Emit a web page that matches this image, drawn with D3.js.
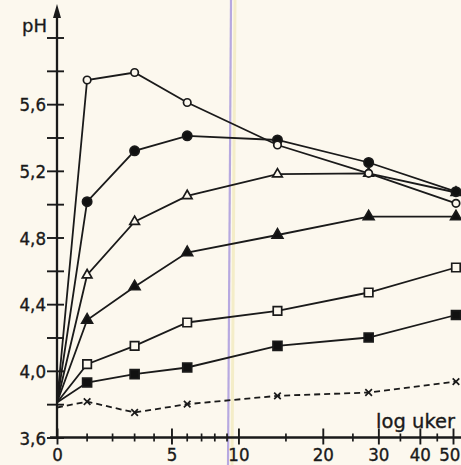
<!DOCTYPE html>
<html>
<head>
<meta charset="utf-8">
<script src="https://cdn.jsdelivr.net/npm/d3@7"></script>
<style>
  body { margin: 0; background: #fcf8ee; }
  svg { display: block; }
  text { font-family: "DejaVu Sans Condensed", "Liberation Sans Narrow", "DejaVu Sans", sans-serif; fill: #1a1a1a; stroke: #1a1a1a; stroke-width: 0.35px; }
  .word { font-family: "DejaVu Sans", sans-serif; }
</style>
</head>
<body>
<div id="chart"></div>
<script>
// weeks after treatment (x axis is log(weeks + 5))
var weeks = [0, 1, 3, 6, 14, 28, 51];

// pH per series
var openCircle     = [3.81, 5.745, 5.79, 5.61, 5.355, 5.185, 5.005];
var filledCircle   = [3.81, 5.015, 5.32, 5.41, 5.385, 5.25, 5.075];
var openTriangle   = [3.81, 4.575, 4.895, 5.05, 5.18, 5.185, 5.07];
var filledTriangle = [3.81, 4.305, 4.505, 4.71, 4.815, 4.925, 4.925];
var openSquare     = [3.81, 4.04, 4.15, 4.29, 4.36, 4.47, 4.62];
var filledSquare   = [3.81, 3.93, 3.98, 4.02, 4.15, 4.20, 4.335];
var crosses        = [3.78, 3.815, 3.75, 3.80, 3.85, 3.87, 3.935];

var yTicks = [3.6, 3.8, 4.0, 4.2, 4.4, 4.6, 4.8, 5.0, 5.2, 5.4, 5.6, 5.8, 6.0];
var yLabels = [3.6, 4.0, 4.4, 4.8, 5.2, 5.6];
var xMajor = [0, 5, 10, 20, 30, 40, 50];
var xMinor = [1, 2, 3, 4, 6, 7, 8, 9, 15, 25, 35, 45];

var width = 461, height = 465;
var bg = "#fcf8ee";
var ink = "#1a1a1a";

var svg = d3.select("#chart")
    .append("svg")
    .attr("width", width)
    .attr("height", height);

svg.append("rect").attr("width", width).attr("height", height).attr("fill", bg);

// scan artefacts: pale vertical bands
svg.append("line")
    .attr("x1", 231).attr("x2", 228).attr("y1", 0).attr("y2", height)
    .attr("stroke", "#b7a9e0").attr("stroke-width", 2.2);
svg.append("line")
    .attr("x1", 235).attr("x2", 232).attr("y1", 0).attr("y2", height)
    .attr("stroke", "#f4edc8").attr("stroke-width", 3);

var x = d3.scaleLog().domain([5, 55]).range([57, 453]);
var xw = function (w) { return x(w + 5); };
var y = d3.scaleLinear().domain([3.6, 6.0]).range([437.5, 37.5]);

// Y axis
var yAxis = svg.append("g")
    .attr("transform", "translate(57,0)")
    .call(d3.axisLeft(y).tickValues(yTicks).tickSize(10).tickPadding(1)
        .tickFormat(function (d) {
            return yLabels.some(function (v) { return Math.abs(v - d) < 1e-6; }) ? d3.format(".1f")(d).replace(".", ",") : "";
        }));
yAxis.select(".domain").remove();
yAxis.selectAll(".tick line").attr("x1", 7).attr("stroke", ink).attr("stroke-width", 1.9);
yAxis.selectAll(".tick text").style("font-size", "18.5px").attr("fill", ink).attr("dy", "0.36em");
yAxis.append("line")
    .attr("x1", 0).attr("x2", 0).attr("y1", y(3.6)).attr("y2", 12)
    .attr("stroke", ink).attr("stroke-width", 2.3);
yAxis.append("path")
    .attr("d", "M0,4L-4,18L4,18Z")
    .attr("fill", ink);

// X axis
var xAxis = svg.append("g")
    .attr("transform", "translate(0," + y(3.6) + ")")
    .call(d3.axisBottom(x).tickValues(xMajor.map(function (d) { return d + 5; }))
        .tickSize(7).tickPadding(3)
        .tickFormat(function (d) { return String(Math.round(d - 5)); }));
xAxis.select(".domain").remove();
xAxis.selectAll(".tick line").attr("y1", -9).attr("stroke", ink).attr("stroke-width", 1.9);
xAxis.selectAll(".tick text").style("font-size", "18.5px").attr("fill", ink)
    .attr("dx", function (d) { return d > 50 ? "-0.2em" : null; });
xAxis.selectAll(".minor")
    .data(xMinor)
    .enter()
    .append("line")
    .attr("x1", function (d) { return xw(d); })
    .attr("x2", function (d) { return xw(d); })
    .attr("y1", -4).attr("y2", 4)
    .attr("stroke", ink).attr("stroke-width", 1.7);
xAxis.append("line")
    .attr("x1", 50).attr("x2", width).attr("y1", 0).attr("y2", 0)
    .attr("stroke", ink).attr("stroke-width", 2.3);

svg.append("text").attr("class", "word").attr("x", 22).attr("y", 32)
    .style("font-size", "18px").text("pH");
svg.append("text").attr("class", "word").attr("x", 455).attr("y", 428).attr("text-anchor", "end")
    .style("font-size", "19.5px").text("log uker");

// series
var series = [
    { values: crosses, symbol: d3.symbolTimes, size: 30, fill: "none", dash: "6,4" },
    { values: filledSquare, symbol: d3.symbolSquare, size: 80, fill: "#111" },
    { values: openSquare, symbol: d3.symbolSquare, size: 72, fill: bg },
    { values: filledTriangle, symbol: d3.symbolTriangle, size: 50, fill: "#111" },
    { values: openTriangle, symbol: d3.symbolTriangle, size: 40, fill: bg },
    { values: filledCircle, symbol: d3.symbolCircle, size: 68, fill: "#111" },
    { values: openCircle, symbol: d3.symbolCircle, size: 44, fill: bg }
];

var line = d3.line()
    .x(function (d) { return xw(d[0]); })
    .y(function (d) { return y(d[1]); });

series.forEach(function (s) {
    var pts = weeks.map(function (w, i) { return [w, s.values[i]]; });
    svg.append("path")
        .datum(pts)
        .attr("d", line)
        .attr("fill", "none")
        .attr("stroke", ink)
        .attr("stroke-width", 1.8)
        .attr("stroke-dasharray", s.dash || null);
});

series.forEach(function (s) {
    var pts = weeks.map(function (w, i) { return [w, s.values[i]]; }).slice(1);
    svg.append("g")
        .selectAll("path")
        .data(pts)
        .enter()
        .append("path")
        .attr("transform", function (d) { return "translate(" + xw(d[0]) + "," + y(d[1]) + ")"; })
        .attr("d", d3.symbol().type(s.symbol).size(s.size))
        .attr("fill", s.fill)
        .attr("stroke", ink)
        .attr("stroke-width", 1.7);
});
</script>
</body>
</html>
